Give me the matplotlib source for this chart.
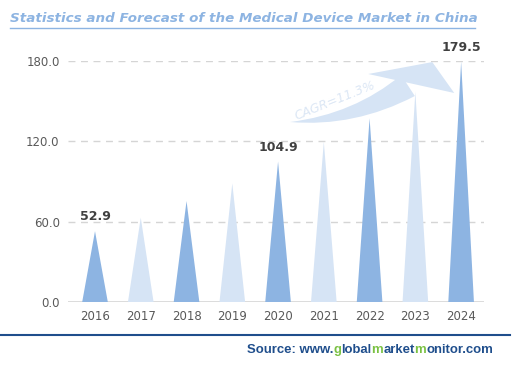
import matplotlib
matplotlib.use('Agg')
import matplotlib.pyplot as plt
from matplotlib.patches import FancyArrowPatch, Polygon

years = ['2016', '2017', '2018', '2019', '2020', '2021', '2022', '2023', '2024']
values = [52.9, 63.0, 75.4, 88.6, 104.9, 119.7, 137.2, 157.0, 179.5]
labeled = {'2016': '52.9', '2020': '104.9', '2024': '179.5'}
yticks = [0, 60, 120, 180]

dark = '#8DB4E2'
light = '#D6E4F5'

fig = plt.figure(figsize=(5.29, 3.67), dpi=100)
ax = fig.add_axes([68/529, 1-302/367, (484-68)/529, (302-61)/367])
ax.set_xlim(-0.59, 8.5)
ax.set_ylim(0, 180)

half = 0.28
for i, (yr, v) in enumerate(zip(years, values)):
    c = dark if i % 2 == 0 else light
    ax.add_patch(Polygon([(i-half, 0), (i, v), (i+half, 0)], closed=True,
                         facecolor=c, edgecolor='none', zorder=3))
    if yr in labeled:
        ax.text(i, v + 6, labeled[yr], ha='center', va='bottom', fontsize=9,
                fontweight='bold', color='#404040', zorder=5)

for y in yticks[1:]:
    ax.axhline(y, color='#D5D5D5', lw=1, ls=(0, (5, 4)), zorder=1)
ax.axhline(0, color='#D5D5D5', lw=1.2, zorder=2)

ax.set_xticks(range(len(years)))
ax.set_xticklabels(years, fontsize=8.5, color='#595959')
ax.set_yticks(yticks)
ax.set_yticklabels([f'{y:.1f}' for y in yticks], fontsize=8.5, color='#595959')
ax.tick_params(length=0, pad=6)
for s in ax.spines.values():
    s.set_visible(False)

# CAGR arrow: tapered curved body + skewed head
tail = (4.2, 134.4)
body_end = (6.89, 162.8)
head_pts = [(7.37, 179.2), (5.97, 170.3), (7.85, 156.1)]
body = FancyArrowPatch(body_end, tail, connectionstyle='arc3,rad=-0.15',
                       arrowstyle='wedge,tail_width=1.8,shrink_factor=0.5',
                       mutation_scale=10, facecolor=light, edgecolor='none', zorder=2)
ax.add_patch(body)
ax.add_patch(Polygon(head_pts, closed=True, facecolor=light, edgecolor='none', zorder=2))
ax.text(5.25, 150, 'CAGR=11.3%', rotation=22, fontsize=9, style='italic',
        color='#DCE7F5', ha='center', va='center', zorder=4)

# title, scaled to the reference width
title = fig.text(10/529, 1-18/367, 'Statistics and Forecast of the Medical Device Market in China',
                 fontsize=11, fontweight='bold', style='italic', color='#8DB4E2',
                 ha='left', va='center')
r = fig.canvas.get_renderer()
w = title.get_window_extent(r).width
title.set_fontsize(11 * 465 / w)
fig.add_artist(plt.Line2D([10/529, 475/529], [1-27.5/367, 1-27.5/367],
                          color='#8DB4E2', lw=1))

# footer
fig.add_artist(plt.Line2D([0, 510/529], [1-335/367, 1-335/367],
                          color='#1F4E8C', lw=1.5))
parts = [('Source: www.', '#1F4E8C'), ('g', '#7AC143'), ('lobal', '#1F4E8C'),
         ('m', '#7AC143'), ('arket', '#1F4E8C'), ('m', '#7AC143'), ('onitor.com', '#1F4E8C')]
t = ax.annotate(parts[0][0], xy=(247/529, 1-350/367), xycoords='figure fraction',
                fontsize=9.45, fontweight='bold', color=parts[0][1],
                family='Liberation Sans', va='center', ha='left')
for s, c in parts[1:]:
    t = ax.annotate(s, xy=(1, 0), xycoords=t, fontsize=9.45, fontweight='bold',
                    color=c, family='Liberation Sans', va='bottom', ha='left')

fig.savefig('out.png', dpi=100)
